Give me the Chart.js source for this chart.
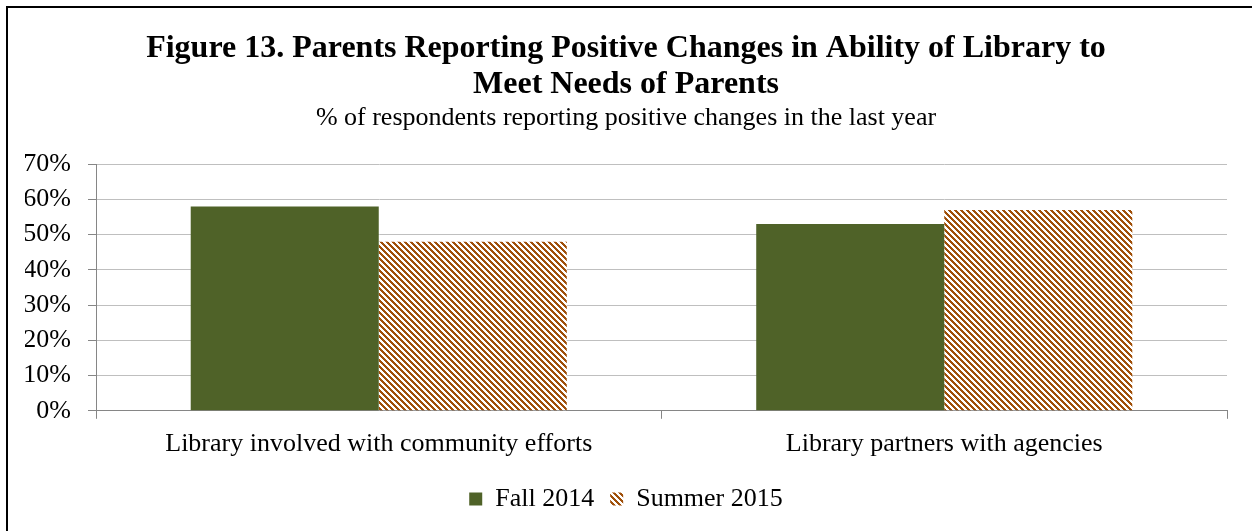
<!DOCTYPE html>
<html>
<head>
<meta charset="utf-8">
<script src="https://cdn.jsdelivr.net/npm/chart.js@4"></script>
<style>
  html, body { margin: 0; padding: 0; background: #fff; }
  #wrap { position: relative; width: 1252px; height: 531px; }
  #frame { position: absolute; left: 6px; top: 6px; right: 0; bottom: 0;
           border-left: 2px solid #000; border-top: 2px solid #000; pointer-events: none; }
</style>
</head>
<body>
<div id="wrap">
  <canvas id="chart" width="1252" height="531"></canvas>
  <div id="frame"></div>
</div>
<script>
const categories = ["Library involved with community efforts", "Library partners with agencies"];
const fall2014 = [58, 53];
const summer2015 = [48, 57];
const yTicks = [0, 10, 20, 30, 40, 50, 60, 70];

const serif = "'Liberation Serif', 'Times New Roman', serif";

// diagonal brown hatch like the Excel pattern fill
function makeStripes() {
  const c = document.createElement("canvas");
  c.width = 6;
  c.height = 6;
  const g = c.getContext("2d");
  g.fillStyle = "#ffffff";
  g.fillRect(0, 0, 6, 6);
  g.fillStyle = "#A0500A";
  for (let y = 0; y < 6; y++) {
    for (let x = 0; x < 6; x++) {
      if (((x - y) % 6 + 6) % 6 < 3) g.fillRect(x, y, 1, 1);
    }
  }
  return g.createPattern(c, "repeat");
}
const stripes = makeStripes();

const ctx = document.getElementById("chart").getContext("2d");
new Chart(ctx, {
  type: "bar",
  data: {
    labels: categories,
    datasets: [
      { label: "Fall 2014", data: fall2014, backgroundColor: "#4F6228" },
      { label: "Summer 2015", data: summer2015, backgroundColor: stripes }
    ]
  },
  options: {
    responsive: false,
    animation: false,
    layout: { padding: { left: 25, right: 25, top: 0, bottom: 9 } },
    datasets: { bar: { categoryPercentage: 0.665, barPercentage: 1 } },
    scales: {
      y: {
        min: 0,
        max: 70,
        afterBuildTicks: (axis) => { axis.ticks = yTicks.map(v => ({ value: v })); },
        afterFit: (axis) => { axis.width = 71; },
        ticks: { callback: v => v + "%", color: "#000", font: { family: serif, size: 26 }, padding: 17 },
        grid: { color: "#BFBFBF", tickColor: "#868686", tickLength: 8, lineWidth: 1 },
        border: { color: "#868686", width: 1 }
      },
      x: {
        ticks: { color: "#000", font: { family: serif, size: 26 }, padding: 10 },
        grid: { drawOnChartArea: false, tickColor: "#868686", tickLength: 8 },
        border: { color: "#868686", width: 1 }
      }
    },
    plugins: {
      title: {
        display: true,
        text: ["Figure 13. Parents Reporting Positive Changes in Ability of Library to", "Meet Needs of Parents"],
        color: "#000",
        font: { family: serif, size: 32, weight: "bold", lineHeight: 1.125 },
        padding: { top: 31, bottom: 0 }
      },
      subtitle: {
        display: true,
        text: "% of respondents reporting positive changes in the last year",
        color: "#000",
        font: { family: serif, size: 26, lineHeight: 1.2 },
        padding: { top: 0, bottom: 30 }
      },
      legend: {
        position: "bottom",
        labels: { color: "#000", font: { family: serif, size: 26 }, boxWidth: 13, boxHeight: 13, padding: 16 }
      },
      tooltip: { enabled: false }
    }
  }
});
</script>
</body>
</html>
